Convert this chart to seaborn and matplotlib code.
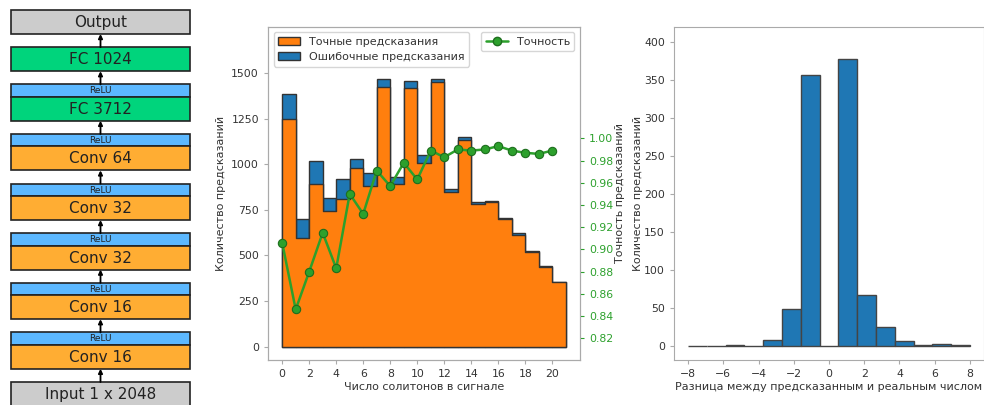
import numpy as np
import pandas as pd
import matplotlib
matplotlib.use("Agg")
import matplotlib.pyplot as plt
import seaborn as sns
from matplotlib.patches import Rectangle, Patch
from matplotlib.lines import Line2D

# ---------------------------------------------------------------------------
# data
# ---------------------------------------------------------------------------
layer_names = ["Output", "FC 1024", "FC 3712", "Conv 64", "Conv 32", "Conv 32", "Conv 16", "Conv 16", "Input 1 x 2048"]
layer_kinds = ["io", "fc", "fc", "conv", "conv", "conv", "conv", "conv", "io"]
layer_relu = [False, False, True, True, True, True, True, True, False]

solitons = list(range(21))
total_pred = [1383, 698, 1018, 813, 917, 1029, 950, 1467, 932, 1454, 1049,
              1469, 862, 1147, 793, 800, 707, 621, 526, 442, 356]
correct_pred = [1246, 594, 893, 745, 808, 977, 882, 1421, 892, 1418, 1008,
                1451, 850, 1133, 784, 792, 702, 614, 519, 436, 352]
accuracy = [0.906, 0.846, 0.880, 0.915, 0.883, 0.950, 0.932, 0.971, 0.957, 0.978, 0.963,
            0.989, 0.983, 0.990, 0.989, 0.990, 0.993, 0.989, 0.987, 0.986, 0.989]

diff_values = list(range(-8, 9))
diff_counts = [0, 0, 0, 1, 0, 8, 48, 356, 0, 378, 67, 25, 6, 1, 2, 1, 0]

# ---------------------------------------------------------------------------
sns.set_style("ticks", rc={"axes.edgecolor": "#aaaaaa", "xtick.color": "#333333",
                           "ytick.color": "#333333", "text.color": "#333333",
                           "axes.labelcolor": "#333333"})
plt.rcParams["font.family"] = ["DejaVu Sans"]

fig = plt.figure(figsize=(9.84, 4.05), dpi=100)

# ---------------- network diagram (pixel coords) ----------------
box_colors = {"io": "#cccccc", "fc": "#00d47c", "conv": "#ffad33"}
axd = fig.add_axes([0, 0, 200 / 984, 1])
axd.set_xlim(0, 200)
axd.set_ylim(405, 0)
axd.axis("off")

x0, w = 11, 179
box_h, relu_h, gap = 24, 12.4, 13.2
y = 10
prev_bottom = None
for name, kind, relu in zip(layer_names, layer_kinds, layer_relu):
    top = y
    if prev_bottom is not None:
        axd.annotate("", xy=(x0 + w / 2, prev_bottom), xytext=(x0 + w / 2, top),
                     arrowprops=dict(arrowstyle="-|>", color="black", lw=1.3,
                                     mutation_scale=6, shrinkA=0, shrinkB=0))
    if relu:
        axd.add_patch(Rectangle((x0, y), w, relu_h, facecolor="#5cb8ff",
                                edgecolor="#222222", lw=1.2))
        axd.text(x0 + w / 2, y + relu_h / 2 + 0.3, "ReLU", ha="center", va="center",
                 fontsize=6.5, color="#222222")
        y += relu_h
    axd.add_patch(Rectangle((x0, y), w, box_h, facecolor=box_colors[kind],
                            edgecolor="#222222", lw=1.2))
    axd.text(x0 + w / 2, y + box_h / 2 + 0.5, name, ha="center", va="center",
             fontsize=11, color="#222222")
    y += box_h
    prev_bottom = y
    y += gap

# ---------------- middle: stacked histogram + accuracy ----------------
ax = fig.add_axes([268 / 984, 45 / 405, 312 / 984, 333.3 / 405])
df_hist = pd.DataFrame({"n": solitons, "total": total_pred, "correct": correct_pred})
sns.histplot(data=df_hist, x="n", weights="total", bins=21, binrange=(0, 21),
             color="#1f77b4", alpha=1, edgecolor="#333333", linewidth=1, ax=ax)
sns.histplot(data=df_hist, x="n", weights="correct", bins=21, binrange=(0, 21),
             element="step", color="#ff7f0e", alpha=1, edgecolor="#333333",
             linewidth=1, ax=ax)
ax.set_xlim(-1.05, 22.05)
ax.set_ylim(-73, 1754)
ax.set_xticks(range(0, 21, 2))
ax.set_yticks(range(0, 1501, 250))
ax.set_xlabel("Число солитонов в сигнале", fontsize=8, labelpad=2)
ax.set_ylabel("Количество предсказаний", fontsize=8)
ax.tick_params(labelsize=7.8, length=3, color="#aaaaaa")

ax2 = ax.twinx()
sns.lineplot(x=solitons, y=accuracy, ax=ax2, color="#2ca02c", marker="o",
             markersize=6, markeredgecolor="#1e6e1e", markeredgewidth=0.8, linewidth=1.8)
ax2.set_ylim(0.8005, 1.1005)
ax2.set_yticks(np.arange(0.82, 1.001, 0.02))
ax2.set_yticklabels([f"{v:.2f}" for v in np.arange(0.82, 1.001, 0.02)])
ax2.tick_params(axis="y", labelsize=7.8, colors="#2ca02c", length=3)
ax2.set_ylabel("Точность предсказаний", fontsize=8, labelpad=1)
for s in ax2.spines.values():
    s.set_color("#aaaaaa")

ax.legend(handles=[Patch(facecolor="#ff7f0e", edgecolor="#333333", label="Точные предсказания"),
                   Patch(facecolor="#1f77b4", edgecolor="#333333", label="Ошибочные предсказания")],
          loc="upper left", fontsize=8, frameon=True)
ax2.legend(handles=[Line2D([], [], color="#2ca02c", marker="o", markersize=6,
                           markeredgecolor="#1e6e1e", lw=1.8, label="Точность")],
           loc="upper right", fontsize=8, frameon=True)

# ---------------- right: difference histogram ----------------
ax3 = fig.add_axes([674 / 984, 45 / 405, 310 / 984, 333.3 / 405])
sns.histplot(x=diff_values, weights=diff_counts, bins=15, binrange=(-8, 8),
             color="#1f77b4", alpha=1, edgecolor="#444444", linewidth=1, ax=ax3)
ax3.set_xlim(-8.8, 8.8)
ax3.set_ylim(-18.9, 420)
ax3.set_xticks(range(-8, 9, 2))
ax3.set_yticks(range(0, 401, 50))
ax3.set_xlabel("Разница между предсказанным и реальным числом", fontsize=8, labelpad=2)
ax3.set_ylabel("Количество предсказаний", fontsize=8, labelpad=1)
ax3.tick_params(labelsize=7.8, length=3, color="#aaaaaa")

fig.savefig("out.png", dpi=100)
